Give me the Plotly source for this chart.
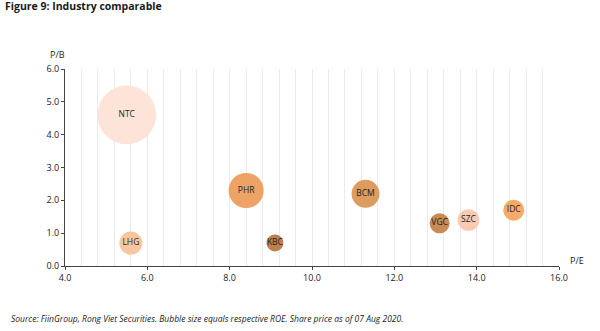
import plotly.graph_objects as go

tickers = ["NTC", "PHR", "LHG", "KBC", "BCM", "VGC", "SZC", "IDC"]
pe = [5.5, 8.4, 5.6, 9.1, 11.3, 13.1, 13.8, 14.9]
pb = [4.6, 2.3, 0.7, 0.7, 2.2, 1.3, 1.4, 1.7]
roe = [34.5, 12.3, 5.3, 2.9, 7.8, 4.0, 4.7, 4.4]
colors = ["#FDE3D8", "#EEA366", "#F8C7A0", "#BF8050", "#DE9B5E", "#C98B55", "#FACBB2", "#F8AB68"]

x_ticks = [4.0, 6.0, 8.0, 10.0, 12.0, 14.0, 16.0]
y_ticks = [0.0, 1.0, 2.0, 3.0, 4.0, 5.0, 6.0]

FONT = "Open Sans"
W, H = 600, 331
ML, MR, MT, MB = 65, 41, 69, 65
pw, ph = W - ML - MR, H - MT - MB


def px(xp):
    return (xp - ML) / pw


def py(yp):
    return (H - MB - yp) / ph


fig = go.Figure()
fig.add_trace(go.Scatter(
    x=pe, y=pb, mode="markers+text", text=tickers,
    textposition="middle center",
    textfont=dict(family=FONT, size=8.5, color="#222222"),
    marker=dict(size=roe, sizemode="area", sizeref=0.02, color=colors,
                line=dict(width=0), opacity=1),
    cliponaxis=False, hoverinfo="skip",
))

fig.update_layout(
    width=W, height=H,
    margin=dict(l=ML, r=MR, t=MT, b=MB),
    paper_bgcolor="white", plot_bgcolor="white",
    showlegend=False,
    font=dict(family=FONT, size=9, color="#222222"),
    xaxis=dict(range=[4, 16], tickvals=x_ticks, ticktext=[f"{v:.1f}" for v in x_ticks],
               showgrid=True, gridcolor="#EBEBEB", gridwidth=1,
               minor=dict(dtick=0.4, tick0=4, showgrid=True, gridcolor="#EBEBEB", gridwidth=1),
               showline=True, linecolor="#444444", linewidth=1,
               ticks="outside", ticklen=3, tickcolor="#444444",
               zeroline=False, tickfont=dict(family=FONT, size=9, color="#222222")),
    yaxis=dict(range=[0, 6], tickvals=y_ticks, ticktext=[f"{v:.1f}" for v in y_ticks],
               showgrid=False, showline=True, linecolor="#444444", linewidth=1,
               ticks="outside", ticklen=3, tickcolor="#444444",
               zeroline=False, tickfont=dict(family=FONT, size=9, color="#222222")),
    annotations=[
        dict(text="<b>Figure 9: Industry comparable</b>", x=px(3), y=py(6), xref="paper", yref="paper",
             xanchor="left", yanchor="middle", showarrow=False,
             font=dict(family=FONT, size=10.5, color="#1a1a1a")),
        dict(text="P/B", x=px(57), y=py(54), xref="paper", yref="paper",
             xanchor="center", yanchor="middle", showarrow=False,
             font=dict(family=FONT, size=9, color="#222222")),
        dict(text="P/E", x=px(577), y=py(260), xref="paper", yref="paper",
             xanchor="center", yanchor="middle", showarrow=False,
             font=dict(family=FONT, size=9, color="#222222")),
        dict(text="<i>Source: FiinGroup, Rong Viet Securities. Bubble size equals respective ROE. Share price as of 07 Aug 2020.</i>",
             x=px(9), y=py(318), xref="paper", yref="paper",
             xanchor="left", yanchor="middle", showarrow=False,
             font=dict(family=FONT, size=8.5, color="#222222")),
    ],
)

fig.write_html("out.html")
